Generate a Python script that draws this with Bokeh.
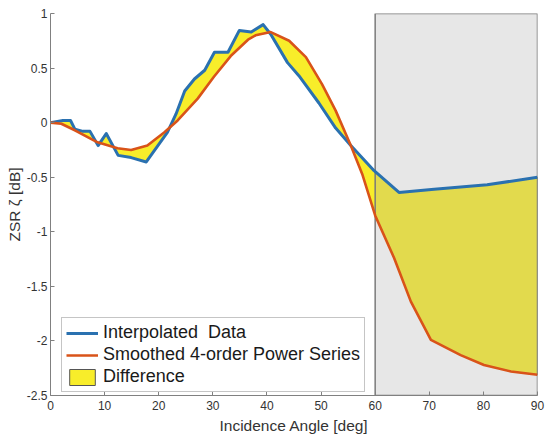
from bokeh.plotting import figure
from bokeh.models import Range1d, FixedTicker, Legend, LegendItem
from bokeh.embed import file_html
from bokeh.resources import INLINE

# ---- data ----
interp_x = [0, 2.3, 3.7, 4.5, 6.0, 7.3, 8.8, 10.3, 12.5, 14.9, 17.7, 21.6, 23.2, 24.8,
            26.6, 28.5, 30.3, 32.8, 34.9, 37.1, 39.3, 40.7, 43.8, 45.9, 49.6, 52.7,
            55.5, 59.8, 64.4, 70.9, 80.7, 90.0]
interp_y = [0.0, 0.02, 0.02, -0.06, -0.08, -0.08, -0.21, -0.10, -0.30, -0.32, -0.36, -0.09,
            0.08, 0.29, 0.40, 0.48, 0.645, 0.645, 0.845, 0.83, 0.898, 0.81, 0.55, 0.43,
            0.18, -0.05, -0.21, -0.44, -0.64, -0.61, -0.57, -0.50]

smooth_x = [0, 2, 4.5, 8.7, 12.4, 14.9, 17.9, 21.0, 23.5, 27.2, 30.2, 33.3, 36.5, 37.9,
            40.7, 44.1, 47.2, 50.2, 52.7, 55.5, 57.6, 60.0, 63.5, 66.6, 70.3, 75.8,
            80.1, 85.1, 90.0]
smooth_y = [0.0, -0.01, -0.07, -0.18, -0.235, -0.25, -0.21, -0.09, 0.02, 0.22, 0.42, 0.61,
            0.76, 0.80, 0.83, 0.75, 0.60, 0.35, 0.11, -0.21, -0.47, -0.85, -1.24, -1.64,
            -1.99, -2.13, -2.22, -2.28, -2.31]

shade_start, shade_end = 60, 90

x_ticks = [0, 10, 20, 30, 40, 50, 60, 70, 80, 90]
x_tick_labels = ["0", "10", "20", "30", "40", "50", "60", "70", "80", "90"]
y_ticks = [1, 0.5, 0, -0.5, -1, -1.5, -2, -2.5]
y_tick_labels = ["1", "0.5", "0", "-0.5", "-1", "-1.5", "-2", "-2.5"]

series_names = ["Interpolated  Data", "Smoothed 4-order Power Series", "Difference"]

# ---- figure ----
FONT = "Liberation Sans"
p = figure(width=548, height=437, x_range=Range1d(0, 90), y_range=Range1d(-2.5, 1),
           output_backend="svg", toolbar_location=None,
           min_border_left=50, min_border_right=11, min_border_top=13, min_border_bottom=42)
p.xgrid.visible = False
p.ygrid.visible = False
p.outline_line_color = None
p.background_fill_color = "white"

# difference region (polygon between the two curves)
diff_x = interp_x + smooth_x[::-1]
diff_y = interp_y + smooth_y[::-1]
r_diff = p.patch(x=diff_x, y=diff_y, fill_color="#f8ed2a", line_color="#555555", line_width=1)

# shaded region
p.quad(left=[shade_start], right=[shade_end], bottom=[-2.5], top=[1],
       fill_color="#a8a8a8", fill_alpha=0.28, line_color="#7a7a7a", line_width=1.5)

r_blue = p.line(interp_x, interp_y, line_color="#2a71b0", line_width=3, line_join="round")
r_red = p.line(smooth_x, smooth_y, line_color="#d95319", line_width=2.6, line_join="round")

# axes
for ax, ticks, labels in ((p.xaxis, x_ticks, x_tick_labels), (p.yaxis, y_ticks, y_tick_labels)):
    ax.ticker = FixedTicker(ticks=ticks)
    ax.major_label_overrides = {t: l for t, l in zip(ticks, labels)}
    ax.axis_line_color = "#808080"
    ax.major_tick_line_color = "#808080"
    ax.major_tick_in = 4
    ax.major_tick_out = 0
    ax.minor_tick_line_color = None
    ax.major_label_text_font = FONT
    ax.major_label_text_font_size = "12px"
    ax.major_label_text_color = "#333333"
    ax.axis_label_text_font = FONT
    ax.axis_label_text_font_size = "15.5px"
    ax.axis_label_text_font_style = "normal"
    ax.axis_label_text_color = "#333333"
    ax.major_label_standoff = 3

p.xaxis.major_label_standoff = 5
p.xaxis.axis_label_standoff = 4
p.yaxis.axis_label_standoff = 1
p.xaxis.axis_label = "Incidence Angle [deg]"
p.yaxis.axis_label = "ZSR ζ [dB]"

legend = Legend(items=[LegendItem(label=series_names[0], renderers=[r_blue]),
                       LegendItem(label=series_names[1], renderers=[r_red]),
                       LegendItem(label=series_names[2], renderers=[r_diff])],
                location=(11, 3))
legend.label_text_font = FONT
legend.label_text_font_size = "18px"
legend.label_text_color = "#1a1a1a"
legend.glyph_width = 32
legend.glyph_height = 20
legend.label_height = 20
legend.label_standoff = 5
legend.spacing = 1
legend.padding = 4
legend.margin = 0
legend.border_line_color = "#8c8c8c"
legend.border_line_width = 1
legend.background_fill_color = "white"
legend.background_fill_alpha = 1
p.add_layout(legend)

open("out.html", "w").write(file_html(p, INLINE))
